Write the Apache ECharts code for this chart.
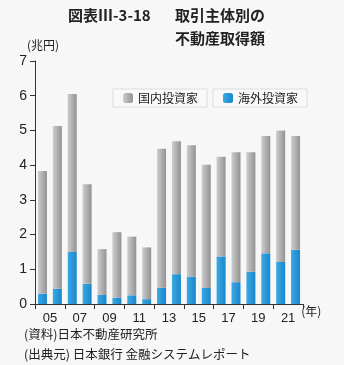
<!DOCTYPE html>
<html><head><meta charset="utf-8">
<script src="https://cdn.jsdelivr.net/npm/echarts@6/dist/echarts.min.js"></script>
<style>html,body{margin:0;padding:0;background:#f7f7f7;}#c{width:344px;height:365px;}</style>
</head><body><div id="c"></div>
<script>
const years = ['2005','2006','2007','2008','2009','2010','2011','2012','2013','2014','2015','2016','2017','2018','2019','2020','2021','2022'];
const tickLabels = ['05','07','09','11','13','15','17','19','21'];
const foreign = [0.30,0.44,1.50,0.58,0.26,0.18,0.25,0.14,0.47,0.86,0.79,0.46,1.37,0.63,0.93,1.46,1.21,1.56];
const domestic = [3.53,4.69,4.55,2.87,1.32,1.89,1.69,1.49,4.00,3.83,3.78,3.55,2.87,3.74,3.44,3.38,3.79,3.28];
const yTicks = [0,1,2,3,4,5,6,7];

const FONT = '"Noto Sans CJK JP", "Noto Sans", sans-serif';
const NUMFONT = '"Liberation Sans", Arial, sans-serif';
const chart = echarts.init(document.getElementById('c'), null, {renderer:'canvas'});
const grey = new echarts.graphic.LinearGradient(0,0,1,0,[{offset:0,color:'#cdcdcd'},{offset:1,color:'#929292'}]);
const blue = new echarts.graphic.LinearGradient(0,0,1,0,[{offset:0,color:'#3aaae2'},{offset:1,color:'#1a86cc'}]);
chart.setOption({
  backgroundColor:'#f7f7f7',
  animation:false,
  textStyle:{fontFamily:FONT},
  grid:{left:35,right:41,top:61,bottom:61},
  graphic:[
    {type:'text',left:68,top:8,style:{text:'図表Ⅲ-3-18',font:'bold 15px '+FONT,fill:'#222'}},
    {type:'text',left:175,top:8,style:{text:'取引主体別の',font:'bold 15px '+FONT,fill:'#222'}},
    {type:'text',left:175,top:31,style:{text:'不動産取得額',font:'bold 15px '+FONT,fill:'#222'}},
    {type:'text',left:27,top:39,style:{text:'(兆円)',font:'12px '+FONT,fill:'#222'}},
    {type:'text',left:24,top:328,style:{text:'(資料)日本不動産研究所',font:'12.5px '+FONT,fill:'#222'}},
    {type:'text',left:24,top:348,style:{text:'(出典元) 日本銀行 金融システムレポート',font:'12.5px '+FONT,fill:'#222'}}
  ],
  legend:[
    {data:['国内投資家'],left:113,top:89,width:94,padding:[3,9,3,10],itemGap:4,itemWidth:10,itemHeight:10,
     borderColor:'#dddddd',borderWidth:1,backgroundColor:'#f9f9f9',
     textStyle:{fontSize:12,color:'#222',fontFamily:FONT,padding:[0,9,0,0]}},
    {data:['海外投資家'],left:213,top:89,padding:[3,9,3,10],itemWidth:10,itemHeight:10,
     borderColor:'#dddddd',borderWidth:1,backgroundColor:'#f9f9f9',
     textStyle:{fontSize:12,color:'#222',fontFamily:FONT,padding:[0,9,0,0]}}
  ],
  xAxis:[
    {type:'category',data:years,show:false},
    {type:'category',data:tickLabels,position:'bottom',offset:0,
     name:'(年)',nameLocation:'end',nameGap:-8,
     nameTextStyle:{fontSize:12,color:'#222',fontFamily:FONT,verticalAlign:'top',padding:[1,0,0,0]},
     axisLine:{lineStyle:{color:'#333',width:1}},
     axisTick:{show:true,length:5,lineStyle:{color:'#333'}},
     axisLabel:{fontSize:13,color:'#222',margin:8,fontFamily:NUMFONT}}
  ],
  yAxis:{type:'value',min:0,max:7,interval:1,
    axisLine:{show:true,lineStyle:{color:'#333'}},
    axisTick:{show:true,length:5,lineStyle:{color:'#333'}},
    splitLine:{show:false},
    axisLabel:{fontSize:14,color:'#222',margin:8,fontFamily:NUMFONT,formatter:v=>yTicks.includes(v)?String(v):''}},
  series:[
    {name:'海外投資家',type:'bar',stack:'s',xAxisIndex:0,data:foreign,barWidth:9,itemStyle:{color:blue}},
    {name:'国内投資家',type:'bar',stack:'s',xAxisIndex:0,data:domestic,barWidth:9,itemStyle:{color:grey}}
  ]
});
</script></body></html>
